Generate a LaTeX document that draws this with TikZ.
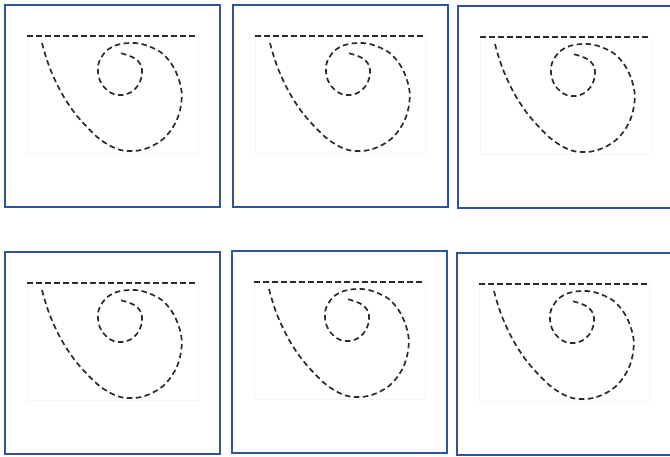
\documentclass[tikz,border=0pt]{standalone}
\usetikzlibrary{calc}
\definecolor{panelblue}{HTML}{2F5597}
\definecolor{dashgray}{HTML}{2B2B2B}
\tikzset{
  panelborder/.style={draw=panelblue, line width=2.2pt},
  faintbox/.style={draw=black!4, line width=0.6pt},
  dashline/.style={draw=dashgray, line width=1.7pt, dash pattern=on 5.5pt off 3.5pt},
  panel/.pic={
    \draw[faintbox] (22,31) rectangle (193,148);
    \draw[dashline] (22,31) -- (190,31);
    \draw[dashline] plot[smooth, tension=0.7] coordinates {
      (37,38) (46,66) (62,97) (82,122) (102,139) (123,146) (147,141) (166,125)
      (176,100) (174,75) (161,52) (143,41) (125,38) (107,42) (96,53) (93,67)
      (99,82) (113,90) (129,85) (137,69) (132,55) (115,48)};
    \draw[panelborder] (0,0) rectangle (215,202);
  }
}
\begin{document}
\begin{tikzpicture}[x=1pt,y=-1pt]
  \useasboundingbox (0,0) rectangle (670,456);
  \clip (0,0) rectangle (670,456);
  \pic at (5,5) {panel};
  \pic at (233,5) {panel};
  \pic at (458,6) {panel};
  \pic at (5,252) {panel};
  \pic at (232,251) {panel};
  \pic at (457,253) {panel};
\end{tikzpicture}
\end{document}
